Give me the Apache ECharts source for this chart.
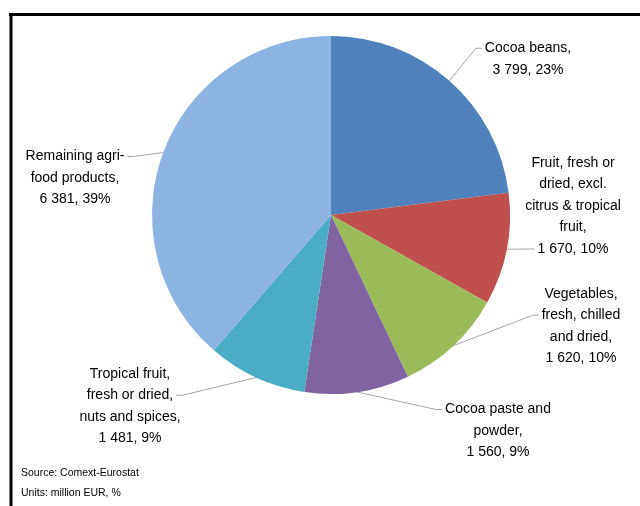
<!DOCTYPE html>
<html>
<head>
<meta charset="utf-8">
<script src="https://cdn.jsdelivr.net/npm/echarts@6/dist/echarts.min.js"></script>
<style>
  html, body { margin: 0; padding: 0; background: #fff; }
  #chart { width: 640px; height: 506px; }
</style>
</head>
<body>
<div id="chart"></div>
<script>
// EU agri-food imports by product group (million EUR, %)
const categories = [
  'Cocoa beans',
  'Fruit, fresh or dried, excl. citrus & tropical fruit',
  'Vegetables, fresh, chilled and dried',
  'Cocoa paste and powder',
  'Tropical fruit, fresh or dried, nuts and spices',
  'Remaining agri-food products'
]
// wrapped label text, as in the reference
const labelText = [
  'Cocoa beans,',
  'Fruit, fresh or\ndried, excl.\ncitrus & tropical\nfruit,',
  'Vegetables,\nfresh, chilled\nand dried,',
  'Cocoa paste and\npowder,',
  'Tropical fruit,\nfresh or dried,\nnuts and spices,',
  'Remaining agri-\nfood products,'
]
const values = [3799, 1670, 1620, 1560, 1481, 6381]
const colors = ['#4F81BD', '#C0504D', '#9BBB59', '#8064A2', '#4BACC6', '#8DB3E2']

// label block centres (x, y) and which text line the leader joins – layout only
const labelPos = [[528, 59], [573, 206], [581, 326], [498, 431], [130, 406], [75, 178]]
const leaderLine = [0, 4, 1, 0, 1, 0]
const leaderSide = ['left', 'left', 'left', 'left', 'right', 'right']

const FONT_SIZE = 14
const LINE_H = 21.5
const total = values.reduce((a, b) => a + b, 0)
const fmt = (v) => String(v).replace(/\B(?=(\d{3})+(?!\d))/g, ' ')
const labelOf = (i) => labelText[i] + '\n' + fmt(values[i]) + ', ' + Math.round((values[i] / total) * 100) + '%'

const ctx = document.createElement('canvas').getContext('2d')
ctx.font = FONT_SIZE + 'px "Liberation Sans"'

const chart = echarts.init(document.getElementById('chart'))

chart.setOption({
  animation: false,
  textStyle: { fontFamily: 'Liberation Sans' },
  graphic: [
    { type: 'line', shape: { x1: 9, y1: 14.5, x2: 640, y2: 14.5 }, style: { stroke: '#000', lineWidth: 3 } },
    { type: 'line', shape: { x1: 11, y1: 13, x2: 11, y2: 506 }, style: { stroke: '#000', lineWidth: 3 } },
    {
      type: 'text', left: 21, top: 463,
      style: {
        text: 'Source: Comext-Eurostat\nUnits: million EUR, %',
        font: '10.5px "Liberation Sans"', fill: '#000', lineHeight: 20
      }
    }
  ],
  series: [
    {
      type: 'pie',
      center: [331, 215],
      radius: 179,
      startAngle: 90,
      clockwise: true,
      silent: true,
      data: categories.map((name, i) => ({
        name,
        value: values[i],
        itemStyle: { color: colors[i] }
      })),
      label: {
        show: true,
        position: 'outside',
        color: '#000',
        fontSize: FONT_SIZE,
        lineHeight: LINE_H,
        align: 'center',
        formatter: (p) => labelOf(p.dataIndex)
      },
      labelLine: {
        show: true,
        length: 10,
        length2: 10,
        lineStyle: { color: '#a6a6a6', width: 1 }
      },
      labelLayout: (params) => {
        const i = params.dataIndex
        const [cx, cy] = labelPos[i]
        const lines = labelOf(i).split('\n')
        const top = cy - (lines.length * LINE_H) / 2
        const ay = top + LINE_H * (leaderLine[i] + 0.5)
        const w = ctx.measureText(lines[leaderLine[i]]).width
        const left = leaderSide[i] === 'left'
        const ax = left ? cx - w / 2 - 3 : cx + w / 2 + 3
        const start = params.labelLinePoints ? params.labelLinePoints[0] : [ax, ay]
        return {
          x: cx,
          y: cy,
          align: 'center',
          verticalAlign: 'middle',
          labelLinePoints: [start, [left ? ax - 6 : ax + 6, ay], [ax, ay]]
        }
      }
    }
  ]
})
</script>
</body>
</html>
